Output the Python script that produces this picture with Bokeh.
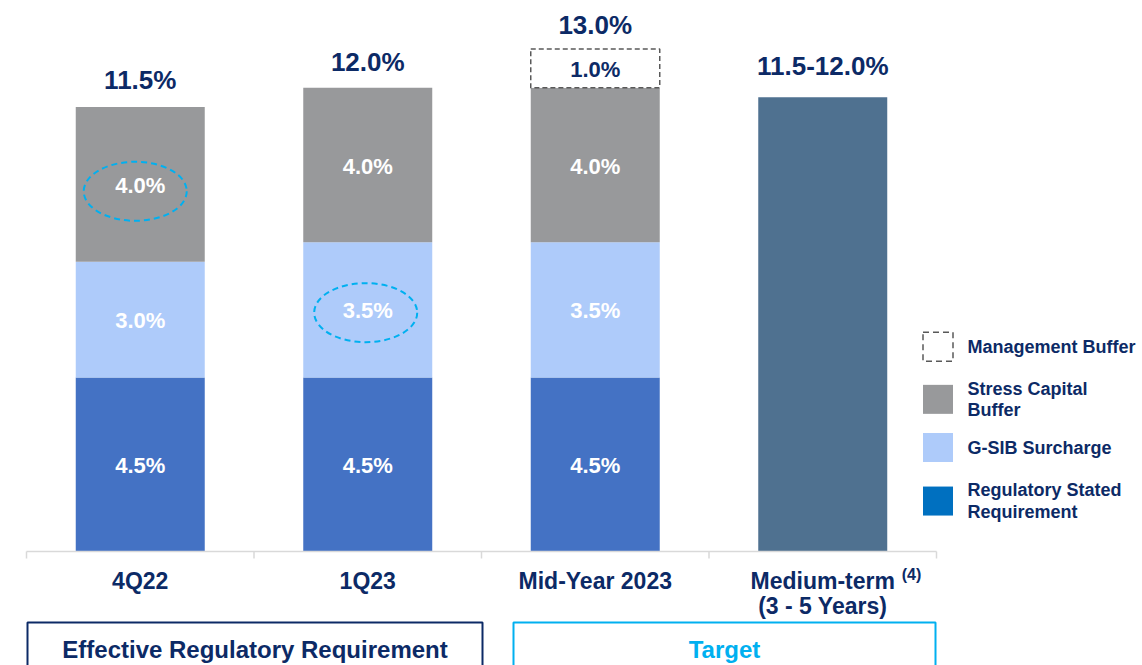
from bokeh.plotting import figure
from bokeh.models import Range1d
from bokeh.core.properties import value
from bokeh.embed import file_html
from bokeh.resources import INLINE

# ---------------- data ----------------
categories = ["4Q22", "1Q23", "Mid-Year 2023", "Medium-term"]
category_notes = ["", "", "", "(4)"]
category_sublines = ["", "", "", "(3 - 5 Years)"]
regulatory = [4.5, 4.5, 4.5, 0.0]
gsib = [3.0, 3.5, 3.5, 0.0]
stress = [4.0, 4.0, 4.0, 0.0]
mgmt_buffer = [0.0, 0.0, 1.0, 0.0]
target_range = [0.0, 0.0, 0.0, 11.75]   # 11.5-12.0% medium-term target (midpoint)
total_labels = ["11.5%", "12.0%", "13.0%", "11.5-12.0%"]
legend_labels = [["Management Buffer"], ["Stress Capital", "Buffer"],
                 ["G-SIB Surcharge"], ["Regulatory Stated", "Requirement"]]
group_labels = ["Effective Regulatory Requirement", "Target"]

# ---------------- styles / layout ----------------
FONT = value("Liberation Sans")
NAVY = "#0c2a66"
REG = "#4472c4"
GSIB = "#aecbfa"
STRESS = "#98999b"
MED = "#4f7190"
LEG_REG = "#0070c0"
CYAN = "#00b0f0"
AXIS = "#d9d9d9"
DASH = "#595959"

W, H = 1142, 665
X_UNIT = 227.5      # px per category
Y_UNIT = 38.65      # px per percentage point
X0_PAGE = 26.0      # page x of category axis start
Y0_PAGE = 551.0     # page y of value 0
MARGIN = 0
TS = -7             # text vertical correction (px)
TOTAL_GAP = [-20, -19, -17, -24]   # label gap above each bar (px)


def px(page_x):
    return (page_x - X0_PAGE) / X_UNIT


def py(page_y):
    return (Y0_PAGE - page_y) / Y_UNIT


p = figure(width=W, height=H,
           x_range=Range1d(px(MARGIN), px(MARGIN + W)),
           y_range=Range1d(py(MARGIN + H), py(MARGIN)),
           output_backend="svg", toolbar_location=None, min_border=0)
p.axis.visible = False
p.grid.visible = False
p.outline_line_color = None
p.background_fill_color = "white"
p.border_fill_color = "white"

n = len(categories)
xs = [i + 0.5 for i in range(n)]
BAR_W = 0.567

# stacked bars
b0 = [0.0] * n
t0 = [b0[i] + regulatory[i] for i in range(n)]
t1 = [t0[i] + gsib[i] for i in range(n)]
t2 = [t1[i] + stress[i] for i in range(n)]
t3 = [t2[i] + mgmt_buffer[i] for i in range(n)]

idx = [i for i in range(n) if regulatory[i] > 0]
p.vbar(x=[xs[i] for i in idx], bottom=[b0[i] for i in idx], top=[t0[i] for i in idx],
       width=BAR_W, fill_color=REG, line_color=None)
p.vbar(x=[xs[i] for i in idx], bottom=[t0[i] for i in idx], top=[t1[i] for i in idx],
       width=BAR_W, fill_color=GSIB, line_color=None)
p.vbar(x=[xs[i] for i in idx], bottom=[t1[i] for i in idx], top=[t2[i] for i in idx],
       width=BAR_W, fill_color=STRESS, line_color=None)
mi = [i for i in range(n) if mgmt_buffer[i] > 0]
p.vbar(x=[xs[i] for i in mi], bottom=[t2[i] for i in mi], top=[t3[i] for i in mi],
       width=BAR_W, fill_color="white", line_color=DASH, line_dash="5 3", line_width=1.5)
ti = [i for i in range(n) if target_range[i] > 0]
p.vbar(x=[xs[i] for i in ti], bottom=0, top=[target_range[i] for i in ti],
       width=BAR_W, fill_color=MED, line_color=None)

# segment labels
seg_x, seg_y, seg_t, seg_c = [], [], [], []
for i in range(n):
    for lo, v, col in ((b0[i], regulatory[i], "white"), (t0[i], gsib[i], "white"),
                       (t1[i], stress[i], "white"), (t2[i], mgmt_buffer[i], NAVY)):
        if v > 0:
            seg_x.append(xs[i]); seg_y.append(lo + v / 2)
            seg_t.append(f"{v:.1f}%"); seg_c.append(col)
p.text(x=seg_x, y=seg_y, text=seg_t, text_color=seg_c, text_font=FONT,
       text_font_style="bold", text_font_size="22px", text_align="center",
       text_baseline="alphabetic", y_offset=8 + TS)

# total labels
tops = [max(t3[i], target_range[i]) for i in range(n)]
p.text(x=xs, y=tops, text=total_labels, text_color=NAVY, text_font=FONT,
       text_font_style="bold", text_font_size="26px", text_align="center",
       text_baseline="alphabetic", y_offset=[g + TS for g in TOTAL_GAP])

# highlight ellipses
p.ellipse(x=[xs[0] - 0.022, xs[1] - 0.009],
          y=[t1[0] + stress[0] / 2 - 0.18, t0[1] + gsib[1] / 2 - 0.07],
          width=103, height=59, width_units="screen", height_units="screen",
          fill_color=None, line_color=CYAN, line_dash="6 4", line_width=2)

# category axis
p.segment(x0=[0], y0=[0], x1=[n], y1=[0], line_color=AXIS, line_width=1.5)
p.segment(x0=list(range(n + 1)), y0=[0] * (n + 1), x1=list(range(n + 1)),
          y1=[-7 / Y_UNIT] * (n + 1), line_color=AXIS, line_width=1.5)
p.text(x=xs, y=[0] * n, text=categories, text_color=NAVY, text_font=FONT,
       text_font_style="bold", text_font_size="23px", text_align="center",
       text_baseline="alphabetic", y_offset=36 + TS)
ni = [i for i in range(n) if category_notes[i]]
p.text(x=[xs[i] for i in ni], y=[0] * len(ni), text=[category_notes[i] for i in ni],
       text_color=NAVY, text_font=FONT, text_font_style="bold", text_font_size="16px",
       text_align="left", text_baseline="alphabetic", x_offset=79, y_offset=30 + TS)
si = [i for i in range(n) if category_sublines[i]]
p.text(x=[xs[i] for i in si], y=[0] * len(si), text=[category_sublines[i] for i in si],
       text_color=NAVY, text_font=FONT, text_font_style="bold", text_font_size="23px",
       text_align="center", text_baseline="alphabetic", y_offset=61 + TS)

# group boxes
box_top = py(622)
group_spans = [(px(27), px(482)), (px(513), px(935))]
group_colors = [NAVY, CYAN]
p.quad(left=[s[0] for s in group_spans], right=[s[1] for s in group_spans],
       top=[box_top] * 2, bottom=[py(800)] * 2, fill_color=None,
       line_color=group_colors, line_width=2)
p.text(x=[(s[0] + s[1]) / 2 for s in group_spans], y=[box_top] * 2, text=group_labels,
       text_color=group_colors, text_font=FONT, text_font_style="bold",
       text_font_size="24px", text_align="center", text_baseline="alphabetic",
       y_offset=34 + TS)

# legend
leg_baselines = [353.3, 395.0, 454.0, 496.7]
LINE_H = 21.7
leg_fill = ["white", STRESS, GSIB, LEG_REG]
lt_x, lt_y, lt_t = [], [], []
sw_y = []
for k, lines in enumerate(legend_labels):
    bls = [leg_baselines[k] + j * LINE_H for j in range(len(lines))]
    for j, s in enumerate(lines):
        lt_x.append(px(967)); lt_y.append(py(bls[j])); lt_t.append(s)
    sw_y.append(py(sum(bls) / len(bls) - 7))
p.text(x=lt_x, y=lt_y, text=lt_t, text_color=NAVY, text_font=FONT,
       text_font_style="bold", text_font_size="18px", text_align="left",
       text_baseline="alphabetic", y_offset=TS)
p.rect(x=[px(937.5)] * 3, y=sw_y[1:], width=30, height=29, width_units="screen",
       height_units="screen", fill_color=leg_fill[1:], line_color=None)
p.rect(x=[px(937.5)], y=sw_y[:1], width=30, height=29, width_units="screen",
       height_units="screen", fill_color="white", line_color=DASH,
       line_dash="6 4", line_width=1.5)

open("out.html", "w").write(file_html(p, INLINE))
